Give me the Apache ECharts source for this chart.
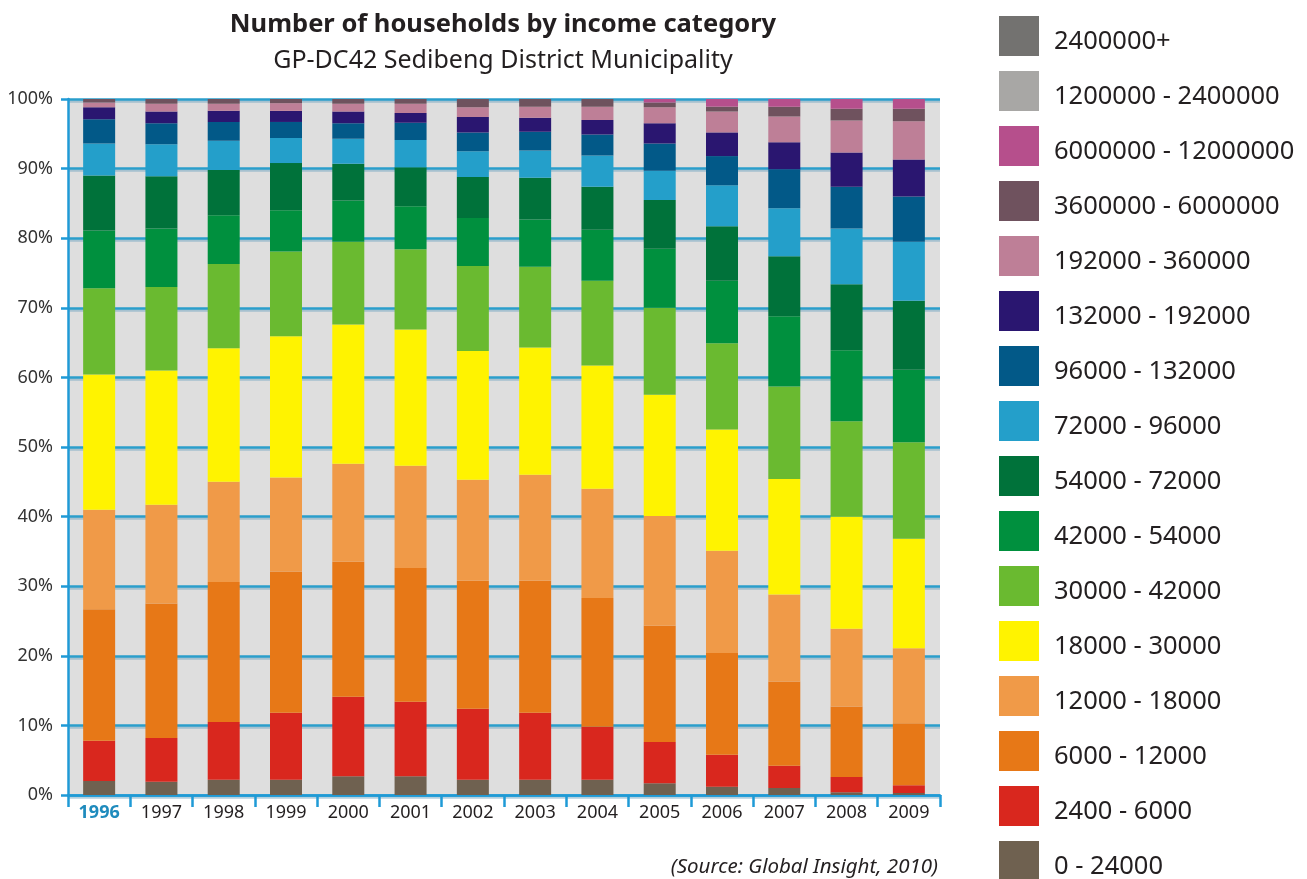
<!DOCTYPE html>
<html>
<head>
<meta charset="utf-8">
<title>Number of households by income category</title>
<script src="https://cdn.jsdelivr.net/npm/echarts@6/dist/echarts.min.js"></script>
<style>
  html, body { margin: 0; padding: 0; background: #ffffff; }
  #chart { width: 1307px; height: 879px; }
</style>
</head>
<body>
<div id="chart"></div>
<script>
// Years on the category axis
const years = ['1996', '1997', '1998', '1999', '2000', '2001', '2002',
               '2003', '2004', '2005', '2006', '2007', '2008', '2009'];

// Y-axis tick values (percent of households)
const yTicks = [0, 10, 20, 30, 40, 50, 60, 70, 80, 90, 100];

// Share of households (%) per income band, bottom of the stack first
const share0to24000         = [2.0, 1.9, 2.2, 2.2, 2.7, 2.7, 2.2, 2.2, 2.2, 1.7, 1.2, 1.0, 0.4, 0.3];
const share2400to6000       = [5.8, 6.3, 8.3, 9.6, 11.4, 10.7, 10.2, 9.6, 7.6, 5.9, 4.6, 3.2, 2.2, 1.1];
const share6000to12000      = [18.9, 19.3, 20.1, 20.3, 19.4, 19.2, 18.4, 19.0, 18.5, 16.7, 14.6, 12.1, 10.1, 8.9];
const share12000to18000     = [14.3, 14.2, 14.4, 13.5, 14.1, 14.7, 14.5, 15.2, 15.7, 15.8, 14.7, 12.5, 11.2, 10.8];
const share18000to30000     = [19.4, 19.3, 19.2, 20.3, 20.0, 19.6, 18.5, 18.3, 17.7, 17.4, 17.4, 16.6, 16.1, 15.7];
const share30000to42000     = [12.4, 12.0, 12.1, 12.2, 11.9, 11.5, 12.2, 11.6, 12.2, 12.5, 12.4, 13.3, 13.7, 13.9];
const share42000to54000     = [8.3, 8.4, 7.0, 5.9, 5.9, 6.2, 6.9, 6.8, 7.3, 8.5, 9.0, 10.1, 10.2, 10.4];
const share54000to72000     = [7.9, 7.5, 6.5, 6.8, 5.3, 5.6, 5.9, 6.0, 6.2, 7.0, 7.8, 8.6, 9.5, 9.9];
const share72000to96000     = [4.6, 4.6, 4.2, 3.6, 3.6, 3.9, 3.7, 3.9, 4.5, 4.2, 5.9, 6.9, 8.0, 8.5];
const share96000to132000    = [3.5, 3.0, 2.7, 2.3, 2.2, 2.5, 2.7, 2.7, 3.0, 3.9, 4.2, 5.6, 6.0, 6.5];
const share132000to192000   = [1.7, 1.7, 1.6, 1.6, 1.7, 1.4, 2.2, 2.0, 2.1, 2.9, 3.4, 3.9, 4.9, 5.3];
const share192000to360000   = [0.7, 1.1, 1.0, 1.1, 1.1, 1.3, 1.4, 1.6, 1.9, 2.3, 3.0, 3.7, 4.6, 5.5];
const share3600000to6000000 = [0.5, 0.7, 0.7, 0.6, 0.7, 0.7, 1.2, 1.1, 1.1, 0.7, 0.7, 1.4, 1.7, 1.8];
const share6000000to12000000 = [0, 0, 0, 0, 0, 0, 0, 0, 0, 0.5, 1.1, 1.1, 1.4, 1.4];
const share1200000to2400000 = [0, 0, 0, 0, 0, 0, 0, 0, 0, 0, 0, 0, 0, 0];
const share2400000plus      = [0, 0, 0, 0, 0, 0, 0, 0, 0, 0, 0, 0, 0, 0];

// Band names and colours, in stacking order (bottom to top)
const bandNames = [
  '0 - 24000', '2400 - 6000', '6000 - 12000', '12000 - 18000', '18000 - 30000',
  '30000 - 42000', '42000 - 54000', '54000 - 72000', '72000 - 96000',
  '96000 - 132000', '132000 - 192000', '192000 - 360000', '3600000 - 6000000',
  '6000000 - 12000000', '1200000 - 2400000', '2400000+'
];
const bandValues = [
  share0to24000, share2400to6000, share6000to12000, share12000to18000, share18000to30000,
  share30000to42000, share42000to54000, share54000to72000, share72000to96000,
  share96000to132000, share132000to192000, share192000to360000, share3600000to6000000,
  share6000000to12000000, share1200000to2400000, share2400000plus
];
const bandColors = [
  '#6f6150', '#d9271e', '#e77817', '#f09a48', '#fff300',
  '#6aba30', '#00903e', '#00723a', '#249fca',
  '#025988', '#2a1670', '#be7f97', '#6f525e',
  '#b64f8c', '#a8a7a5', '#737270'
];

const FONT = '"Noto Sans", "Open Sans", sans-serif';
const TEXT = '#231f20';
const BLUE = '#1f9ad6';

const series = bandNames.map((name, i) => ({
  name: name,
  type: 'bar',
  stack: 'share',
  barWidth: 32,
  itemStyle: { color: bandColors[i] },
  emphasis: { disabled: true },
  data: bandValues[i]
}));

const chart = echarts.init(document.getElementById('chart'), null, { renderer: 'canvas' });

chart.setOption({
  animation: false,
  textStyle: { fontFamily: FONT },
  grid: {
    left: 68, right: 367, top: 99, bottom: 84,
    show: true, backgroundColor: '#dedede', borderWidth: 0
  },
  legend: {
    orient: 'vertical',
    left: 999, top: 16, height: 900,
    padding: 0,
    itemWidth: 40, itemHeight: 40, itemGap: 15,
    icon: 'rect',
    selectedMode: false,
    data: bandNames.slice().reverse(),
    formatter: name => '{t|' + name + '}',
    textStyle: {
      fontFamily: FONT, fontSize: 25.5, color: TEXT,
      rich: { t: { fontFamily: FONT, fontSize: 25.5, color: TEXT, padding: [11, 0, 0, 10] } }
    }
  },
  xAxis: {
    type: 'category',
    data: years,
    boundaryGap: true,
    axisLine: { lineStyle: { color: BLUE, width: 2.5 } },
    axisTick: { show: true, interval: 0, alignWithLabel: false, length: 12, lineStyle: { color: BLUE, width: 2.5 } },
    axisLabel: {
      interval: 0,
      margin: 9, fontSize: 18, color: TEXT, fontFamily: FONT,
      formatter: (v, i) => i === 0 ? '{hl|' + v + '}' : v,
      rich: { hl: { color: '#1f8bbd', fontWeight: 'bold', fontSize: 18, fontFamily: FONT } }
    },
    splitLine: { show: false }
  },
  yAxis: {
    type: 'value',
    min: yTicks[0], max: yTicks[yTicks.length - 1], interval: 10,
    axisLine: { show: true, lineStyle: { color: BLUE, width: 2.5 } },
    axisTick: { show: true, length: 7, lineStyle: { color: BLUE, width: 2.5 } },
    axisLabel: { margin: 15, fontSize: 18, color: '#333333', fontFamily: FONT, formatter: '{value}%' },
    splitLine: {
      show: true,
      lineStyle: {
        color: '#2a9ecb', width: 2.5,
        shadowColor: 'rgba(120,170,195,0.55)', shadowOffsetY: 2, shadowBlur: 0
      }
    }
  },
  graphic: [
    {
      type: 'text',
      style: {
        x: 503, y: 25, text: 'Number of households by income category',
        textAlign: 'center', textVerticalAlign: 'middle',
        font: 'bold 25.5px ' + FONT, fill: TEXT
      }
    },
    {
      type: 'text',
      style: {
        x: 503, y: 61, text: 'GP-DC42 Sedibeng District Municipality',
        textAlign: 'center', textVerticalAlign: 'middle',
        font: '25px ' + FONT, fill: TEXT
      }
    },
    {
      type: 'text',
      style: {
        x: 938, y: 867, text: '(Source: Global Insight, 2010)',
        textAlign: 'right', textVerticalAlign: 'middle',
        font: 'italic 20.5px ' + FONT, fill: TEXT
      }
    }
  ],
  series: series
});
</script>
</body>
</html>
